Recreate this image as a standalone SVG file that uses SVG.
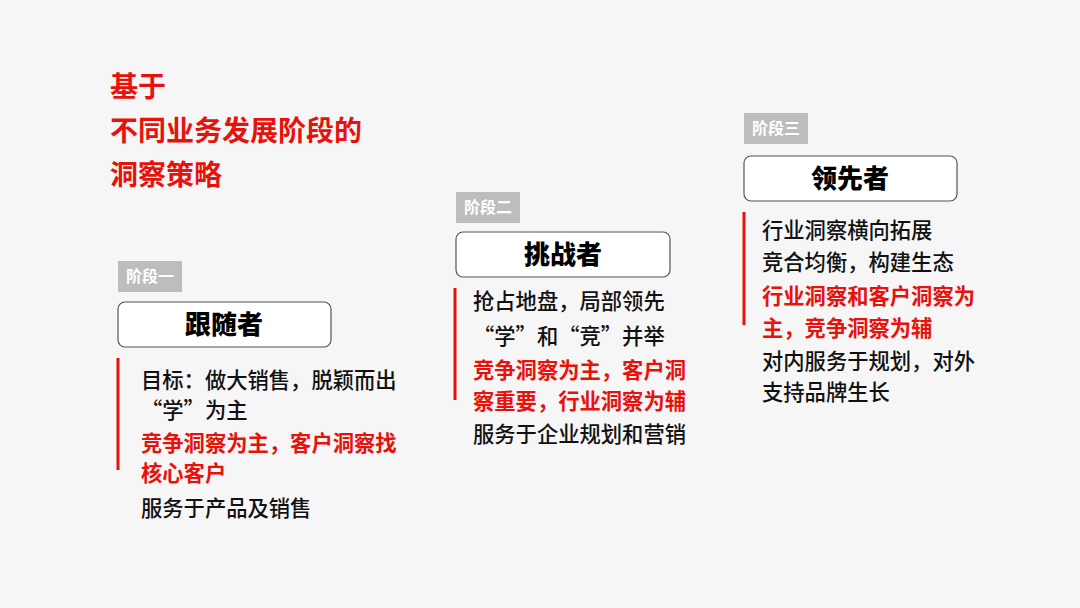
<svg xmlns="http://www.w3.org/2000/svg" width="1080" height="608" viewBox="0 0 1080 608">
<style>
text{font-family:"Noto Sans CJK SC","Noto Sans",sans-serif;}
.t{fill:#e8120c;font-size:28px;font-weight:bold;}
.lb rect{fill:#bdbdbd;}
.lb text{fill:#fff;font-size:16px;font-weight:bold;}
.bx rect{fill:#fff;stroke:#555;stroke-width:1.2;}
.bx text{fill:#000;font-size:26px;font-weight:900;text-anchor:middle;}
.ln{stroke:#e8120c;stroke-width:3;}
.b{fill:#111;font-size:21.3px;font-weight:500;}
.r{fill:#e8120c;font-size:21.3px;font-weight:bold;}
</style>
<rect width="1080" height="608" fill="#f6f6f6"/>
<g id="title"><text class="t" x="110" y="97">基于</text><text class="t" x="110" y="141">不同业务发展阶段的</text><text class="t" x="110" y="185">洞察策略</text></g>
<g id="stage1">
<g class="lb"><rect x="118" y="261" width="64" height="31"/><text x="126" y="282">阶段一</text></g>
<g class="bx"><rect x="118" y="302" width="213" height="45" rx="7"/><text x="224" y="334">跟随者</text></g>
<line class="ln" x1="118" y1="358" x2="118" y2="470"/>
<text class="b" x="141" y="388">目标：做大销售，脱颖而出</text>
<text class="b" x="141" y="418">“学”为主</text>
<text class="r" x="141" y="451">竞争洞察为主，客户洞察找</text>
<text class="r" x="141" y="481">核心客户</text>
<text class="b" x="141" y="516">服务于产品及销售</text>
</g>
<g id="stage2">
<g class="lb"><rect x="456" y="192" width="64" height="31"/><text x="464" y="213">阶段二</text></g>
<g class="bx"><rect x="456" y="232" width="214" height="45" rx="7"/><text x="563" y="264">挑战者</text></g>
<line class="ln" x1="455" y1="288" x2="455" y2="400"/>
<text class="b" x="473" y="309">抢占地盘，局部领先</text>
<text class="b" x="473" y="344">“学”和“竞”并举</text>
<text class="r" x="473" y="378">竞争洞察为主，客户洞</text>
<text class="r" x="473" y="409">察重要，行业洞察为辅</text>
<text class="b" x="473" y="442">服务于企业规划和营销</text>
</g>
<g id="stage3">
<g class="lb"><rect x="744" y="113" width="64" height="31"/><text x="752" y="134">阶段三</text></g>
<g class="bx"><rect x="744" y="156" width="213" height="45" rx="7"/><text x="850" y="188">领先者</text></g>
<line class="ln" x1="744" y1="212" x2="744" y2="325"/>
<text class="b" x="762" y="238">行业洞察横向拓展</text>
<text class="b" x="762" y="270">竞合均衡，构建生态</text>
<text class="r" x="762" y="304">行业洞察和客户洞察为</text>
<text class="r" x="762" y="336">主，竞争洞察为辅</text>
<text class="b" x="762" y="369">对内服务于规划，对外</text>
<text class="b" x="762" y="400">支持品牌生长</text>
</g>
<g id="connectors"/>
</svg>
